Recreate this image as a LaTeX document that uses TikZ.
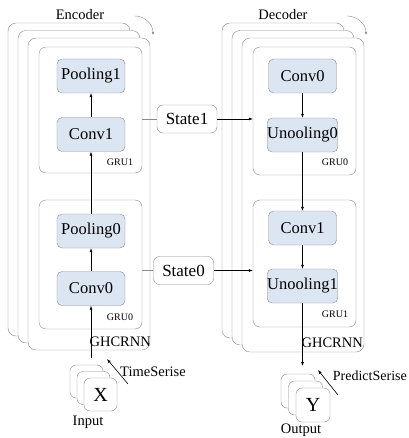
\documentclass[tikz,border=0pt]{standalone}
\usepackage{fontspec}
\setmainfont{Liberation Serif}
\usetikzlibrary{arrows.meta}

\definecolor{boxfill}{HTML}{DCE6F2}
\definecolor{edgegray}{HTML}{8C8C8C}

\tikzset{
  layer/.style={draw=edgegray, fill=boxfill, rounded corners=5pt, minimum width=68pt,
    minimum height=34pt, inner sep=0pt, font=\fontsize{16.5}{18}\selectfont},
  grubox/.style={draw=edgegray, rounded corners=7pt, minimum width=103pt, inner sep=0pt},
  statebox/.style={draw=edgegray, fill=white, rounded corners=6pt, minimum width=60pt,
    minimum height=28pt, inner sep=0pt, font=\fontsize{17}{19}\selectfont},
  sheet/.style={draw=edgegray, fill=white, rounded corners=6pt, minimum size=33pt,
    inner sep=0pt, font=\fontsize{20}{22}\selectfont},
  tag/.style={inner sep=0pt, font=\fontsize{14.5}{16}\selectfont},
  small/.style={inner sep=0pt, font=\fontsize{10}{11}\selectfont},
  flow/.style={-{Latex[length=4pt,width=3pt]}, line width=0.6pt}
}

\begin{document}
\begin{tikzpicture}[x=1pt,y=-1pt]
    \useasboundingbox (0,0) rectangle (408,438);

    \foreach \i in {0, 1, 2} {
        \draw[edgegray, fill=white, rounded corners=8pt] (8+10*\i, 23+7.5*\i) rectangle (130+10*\i, 336+7*\i);
        \draw[edgegray, fill=white, rounded corners=8pt] (222+10*\i, 23+7.5*\i) rectangle (344+10*\i, 338+7*\i);
    }

    \node[tag] (enc) at (80,15) {Encoder};
    \node[tag] (dec) at (283,15) {Decoder};
    \draw[edgegray, -{Latex[length=3pt,width=2.5pt]}] (135,16) to[out=0, in=90] (153,35);
    \draw[edgegray, -{Latex[length=3pt,width=2.5pt]}] (347,16) to[out=0, in=90] (366,35);

    \node[grubox, minimum height=126pt] (egru1) at (90.5,110) {};
    \node[grubox, minimum height=129pt] (egru0) at (90.5,264.5) {};
    \node[grubox, minimum height=128pt] (dgru0) at (304.5,111) {};
    \node[grubox, minimum height=127pt] (dgru1) at (304.5,263.5) {};

    \node[small] (lgru1) at (120,162) {GRU1};
    \node[small] (lgru0) at (120,317) {GRU0};
    \node[small] (rgru0) at (335,162) {GRU0};
    \node[small] (rgru1) at (335,314) {GRU1};

    \node[layer] (epool1) at (91,76) {Pooling1};
    \node[layer] (econv1) at (91,134.5) {Conv1};
    \node[layer] (epool0) at (91,231) {Pooling0};
    \node[layer] (econv0) at (91,288.5) {Conv0};

    \node[layer] (dconv0) at (302.5,76) {Conv0};
    \node[layer] (dunpool0) at (302.5,135) {Unooling0};
    \node[layer] (dconv1) at (302.5,228) {Conv1};
    \node[layer] (dunpool1) at (302.5,286) {Unooling1};

    \draw[flow] (econv0.north) -- (epool0.south);
    \draw[flow] (epool0.north) -- (econv1.south);
    \draw[flow] (econv1.north) -- (epool1.south);
    \draw[flow] (dconv0.south) -- (dunpool0.north);
    \draw[flow] (dunpool0.south) -- (dconv1.north);
    \draw[flow] (dconv1.south) -- (dunpool1.north);

    \node[tag, anchor=east] (eghc) at (151,342) {GHCRNN};
    \node[tag, anchor=east] (dghc) at (363,343) {GHCRNN};

    \node[statebox] (state1) at (187,119) {State1};
    \node[statebox] (state0) at (183.5,270.5) {State0};
    \draw[edgegray] (egru1.east |- state1.west) -- (state1.west);
    \draw[edgegray] (egru0.east |- state0.west) -- (state0.west);
    \draw[flow] (state1.east) -- (state1.east -| dgru0.west);
    \draw[flow] (state0.east) -- (state0.east -| dgru1.west);

    % input side
    \foreach \i in {0, 1} {
        \draw[edgegray, fill=white, rounded corners=6pt] (70+7*\i, 365+6.5*\i) rectangle +(33,33);
    }
    \node[sheet] (xin) at (100.5,394.5) {X};
    \node[tag] (inlabel) at (88,422) {Input};
    \coordinate (xtop) at (91,358);
    \draw[flow] (xtop) -- (econv0.south);
    \coordinate (tsfoot) at (128,384);
    \coordinate (tshead) at (107,359);
    \draw[flow] (tsfoot) -- (tshead);
    \node[tag] (tslabel) at (153,372) {TimeSerise};

    % output side
    \foreach \i in {0, 1} {
        \draw[edgegray, fill=white, rounded corners=6pt] (281+7.5*\i, 374+7*\i) rectangle +(34,34);
    }
    \node[sheet, minimum size=34pt] (yout) at (313,405) {Y};
    \node[tag] (outlabel) at (301,430) {Output};
    \coordinate (ybottom) at (302.5,366);
    \draw[flow] (dunpool1.south) -- (ybottom);
    \coordinate (psfoot) at (338,395);
    \coordinate (pshead) at (318,370);
    \draw[flow] (psfoot) -- (pshead);
    \node[tag, anchor=east, font=\fontsize{14}{16}\selectfont] (pslabel) at (407,376) {PredictSerise};

\end{tikzpicture}
\end{document}
